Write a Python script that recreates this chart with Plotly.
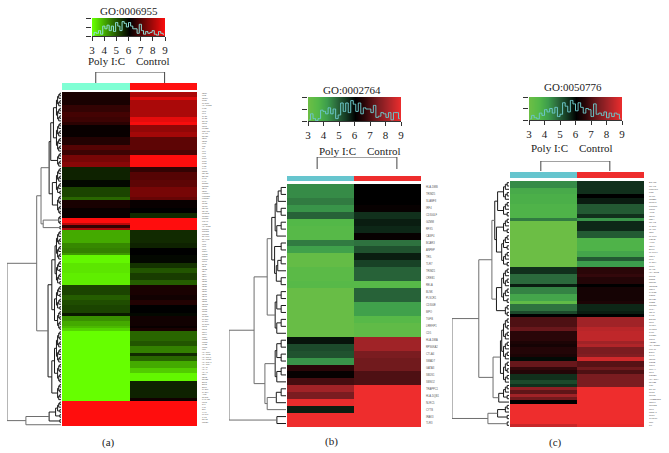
import math
import plotly.graph_objects as go

W, H = 669, 453
SERIF = "Liberation Serif"

# ---- data: runs of rows (row count, Poly I:C value, Control value)
BANDS_A = [(2,6.3,8.0),(1,6.3,8.6),(2,6.3,8.0),(3,6.6,8.0),(2,6.8,8.0),(2,6.7,8.7),(1,6.5,8.9),
 (3,6.1,7.7),(2,6.1,7.9),(3,6.4,7.1),(2,7.0,7.1),(2,6.7,6.9),(3,7.4,9.0),(2,7.6,9.0),
 (2,5.6,6.6),(3,5.6,7.0),(3,5.9,7.1),(4,5.2,7.4),(1,4.8,7.2),(3,6.3,6.1),(2,6.1,6.0),(2,6.1,5.5),
 (2,9.0,9.0),(1,8.2,9.0),(1,6.6,9.0),(1,8.0,9.0),
 (5,4.0,5.5),(2,4.4,5.6),(2,4.5,6.0),(1,4.2,6.0),(3,3.1,5.9),(2,3.3,5.4),(2,3.3,5.0),(3,3.2,5.3),(2,3.2,4.9),
 (4,5.2,6.3),(2,4.9,6.2),(2,5.1,6.4),(3,5.2,6.0),(1,5.7,5.9),(2,4.3,6.2),(2,4.0,6.2),(1,3.8,6.1),(1,3.5,6.3),
 (4,3.0,4.8),(2,3.0,5.0),(3,3.0,4.5),(1,3.0,5.5),(2,3.0,4.8),(3,3.0,4.0),(2,3.0,3.6),(3,3.0,3.1),
 (7,3.0,5.6),(1,3.0,6.2),(10,9.0,9.0)]
BANDS_B = [(1,4.4,6.0),(1,4.4,6.0),(1,4.6,6.0),(1,4.3,6.1),(1,4.9,5.5),(1,3.6,5.7),(1,3.5,5.6),(1,3.5,6.1),
 (1,4.6,4.7),(1,4.1,5.1),(1,3.2,5.7),(1,3.2,5.3),(1,3.4,4.9),(1,3.4,4.9),(1,3.5,3.5),(1,3.1,4.9),(1,3.1,4.9),
 (1,3.1,4.1),(1,3.1,4.1),(1,3.1,3.5),(1,3.1,3.3),(1,3.1,3.3),(1,5.8,8.0),(1,5.2,8.0),(1,5.1,7.5),(1,4.3,7.4),
 (1,6.6,7.4),(1,6.1,7.0),(1,6.9,7.0),(1,8.0,9.0),(1,7.5,9.0),(1,8.9,9.0),(1,5.7,9.0),(1,9.0,9.0),(1,9.0,9.0)]
BANDS_C = [(2,4.4,5.5),(2,3.9,5.5),(1,3.8,6.0),(2,3.8,5.7),(3,3.7,5.0),(1,3.7,5.5),(1,4.6,4.3),(3,3.0,5.6),(2,3.0,5.0),
 (4,3.0,3.7),(2,3.0,4.0),(1,3.0,5.0),(2,3.0,4.2),
 (2,5.5,6.6),(1,4.8,6.7),(2,4.8,6.5),(1,5.7,6.0),(2,4.5,6.3),(2,4.0,6.3),(1,3.3,6.4),(2,4.7,5.6),(1,5.2,5.7),(1,6.0,6.0),
 (3,7.0,8.0),(1,7.3,8.3),(3,6.6,8.4),(1,6.4,8.0),(1,6.3,8.2),(2,6.5,7.5),(1,6.4,7.6),(1,5.9,8.6),
 (2,7.3,7.1),(1,6.7,7.4),(1,6.5,7.0),(2,5.5,7.5),(1,5.2,7.5),(1,5.5,7.5),
 (1,7.8,9.0),(1,7.2,9.0),(1,8.0,9.0),(1,7.4,9.0),(1,6.0,9.0),(6,9.0,9.0),(1,8.5,8.9)]

GENES_A = """CD86 IL1B CD274 TLR2 CXCL10 HLA-DQB2 IFIT2 IRF1 MX1 OAS1 OAS2 STAT1 CCL5 CCL8 LILRB3 TNFAIP3 ICAM1 NFKB1
CD69 CD83 IL7R TNF IL6 IL10 IL15 IL18 TLR4 TLR7 TLR8 IFI35 IFI44 ISG15 RSAD2 DDX58 IFIH1 LY96 SOCS1 SOCS3 CD40 CD80
FCGR1A FCGR2B FCGR3A C1QA C1QB C1QC C3AR1 C5AR1 CLEC4E CLEC7A PTPRC ITGAM ITGB2 HLA-DOB TRIM21 TRIM22 TRIM25 SLAMF7 SLAMF8
IRF4 IRF5 IRF7 IRF8 GZMA GZMB GZMK GZMM PRF1 NKG7 CD2 CD3E CD4 CD8A CD14 CD19 CD22 CD27 CD28 CD36 CD37 CD38 CD48 CD52 CD53
CD163 CCR1 CCR2 CCR5 CCR7 CXCR3 CXCR4 CXCL9 CXCL11 CCL2 CCL3 CCL4 CCL7 IL2RA IL2RB IL2RG IL12B IL21R IL27 HLA-DMA HLA-DMB
HLA-DPA1 HLA-DPB1 HLA-DQA1 HLA-DRA HLA-E HLA-F HLA-G RELA RELB NFKB2 BCL2 BCL3 BCL6 CASP1 CASP4 AIM2 NLRP3 PYCARD LCP2 SYK
LYN BTK VAV1 MAPK1 JAK2 STAT3 PSMB9""".split()
GENES_B = """HLA-DMB TRIM25 SLAMF8 IRF4 CD300LF GZMM RFX5 CASP4 BCAR3 ANPEP TRIL TLR7 TRIM21 CREB1 RELA BLNK PLSCR1 CD300E MPO
TGFB LRRFIP1 CD5 HLA-DMA RPS6KA2 CTLA4 SMAD7 GATA3 SBDS1 SBNO2 TRAPPC1 HLA-DQB1 NLRC5 CYTB IRAK3 TLR3""".split()
GENES_C = """BCAR3 TRAF3 LRRFIP1 FOS CHUK CREB1 RUNX1 PTPN11 CCR7 ATF3 CD86 RELA TRAF2 CASP1 ICAM1 CD5 MAPK8 IKBKB AKT1 CD74 ELK1
MAPK14 CSF1 MX1 CASP4 TLR7 IRAK2 HLA-DMB RIPK2 NOD2 RNF31 CD300E CSK1 TYRO3 IL2RG NFKB1 GRB2 SOCS1 CIITA CD48 JAK3 BIRC3
IRF8 CXCL9 CXCR3 IFI16 IL18BP CCL5 ABCB9 HLA-DQB1 ITGAM BCL6 IFIH1 ISG15 GZMB CCL8 CTLA4 IRF1 PSMB8 HLA-DMA NFKB2 LCK STAT1
TLR2 TRIM5 APOBEC3G CD244 TRIM22 IRF7 MNDA1 TLR8 CXCL10 TNF IL6""".split()

HIST_A = [0.05,0.2,0.15,0.3,0.1,0.55,0.4,0.6,0.3,0.55,0.25,0.75,0.55,0.3,0.8,0.7,0.5,0.75,0.55,0.4,0.4,0.15,0.65,0.3,0.1,0.25,0.15,0.2,0.3,0.1,0.05,0.25,0.15,0.1]
HIST_B = [0.05,0.3,0.1,0.02,0.1,0.45,0.4,0.3,0.55,0.3,0.5,0.1,0.25,0.75,0.4,0.75,0.35,0.85,0.7,0.4,0.75,0.3,0.55,0.5,0.5,0.35,0.65,0.15,0.2,0.35,0.3,0.15,0.35,0.05,0.35,0.35,0.1]
HIST_C = [0.05,0.2,0.1,0.05,0.3,0.2,0.45,0.35,0.5,0.3,0.55,0.15,0.25,0.75,0.6,0.35,0.85,0.7,0.4,0.75,0.55,0.3,0.5,0.45,0.15,0.7,0.25,0.3,0.2,0.35,0.1,0.3,0.15,0.3,0.25,0.05]
KEY_TICKS = [3, 4, 5, 6, 7, 8, 9]

SCALE_A = [[0, "#66FF00"], [0.5, "#000000"], [1, "#FF0D0D"]]
SCALE_BC = [[0, "#6CBE45"], [0.1, "#53B848"], [0.2, "#3C9C4C"], [0.3, "#2B6A3C"], [0.4, "#143A22"], [0.5, "#000000"],
            [0.6, "#2A0608"], [0.75, "#7A1C20"], [0.85, "#A82428"], [1, "#EE2D2D"]]

# cluster trees: (merge height, upper child, lower child); an integer child is a run of leaves
TREE_A = (1.0,
  (0.45,
    (0.37,
      (0.22, (0.19, (0.14, 12, 12), 6), (0.16, 11, 8)),
      (0.33, 4, 2)),
    (0.24,
      (0.17, (0.11, 12, 10), (0.12, 10, 8)),
      (0.17, (0.12, 13, 8), 7))),
  (0.65, (0.22, (0.1, 5, 2), 2), 1))
TREE_B = (1.0,
  (0.56,
    (0.33,
      (0.25, (0.19, 5, 3), (0.2, 2, 5)),
      (0.19, 4, 3)),
    (0.37, (0.19, 4, 3), (0.33, 3, 1))),
  (0.16, 1, 1))
TREE_C = (1.0,
  (0.53,
    (0.3,
      (0.25, (0.2, 6, 5), (0.22, 5, 10)),
      (0.22, 11, 4)),
    (0.28, (0.15, 13, 7), (0.18, 5, 1))),
  (0.37, (0.2, 3, 2), 2))

def expand(bands):
    poly, ctrl = [], []
    for n, p, c in bands:
        poly += [p] * n
        ctrl += [c] * n
    return poly, ctrl

def tree_segments(tree, step):
    segs = []
    cursor = [0]
    def fine(n, parent):
        if n == 1:
            r = cursor[0]
            cursor[0] += 1
            return r, 0.0
        h = min(parent * 0.85, step * math.ceil(math.log2(n)))
        return join(h, n // 2 + n % 2, n // 2)
    def walk(node, parent):
        if isinstance(node, int):
            return fine(node, parent)
        return join(node[0], node[1], node[2])
    def join(h, a, b):
        ya, ha = walk(a, h)
        yb, hb = walk(b, h)
        segs.append((h, [ha, h, h, hb], [ya, ya, yb, yb]))
        return (ya + yb) / 2, h
    walk(tree, 1.0)
    return segs

PANELS = [
 dict(bands=BANDS_A, genes=GENES_A, tree=TREE_A, step=0.021, title="GO:0006955", tag="(a)", hist=HIST_A,
      heat=(62,197,92,426), side=(83,90), bracket=(0.0,1.02,72,83), dend=(7,61),
      key=(92,165,18,36), title_xy=(129,11), poly_xy=(106,61), ctrl_xy=(153,61), tag_xy=(109,442),
      scale=SCALE_A, side_cols=["#7FFFD4","#FF1010"], line="#8FE0D8", lab=1.9),
 dict(bands=BANDS_B, genes=GENES_B, tree=TREE_B, step=0.085, title="GO:0002764", tag="(b)", hist=HIST_B,
      heat=(287,421,184,427), side=(176,181), bracket=(-0.05,1.14,157,169), dend=(229,286),
      key=(308,401,97,121), title_xy=(352,90), poly_xy=(337,151), ctrl_xy=(384,151), tag_xy=(331,441),
      scale=SCALE_BC, side_cols=["#66C5CE","#EE2D2D"], line="#6CC5C8", lab=2.6),
 dict(bands=BANDS_C, genes=GENES_C, tree=TREE_C, step=0.032, title="GO:0050776", tag="(c)", hist=HIST_C,
      heat=(510,644,181,427), side=(172,178), bracket=(-0.04,0.99,161,171), dend=(452,509),
      key=(529,622,97,120), title_xy=(573,87), poly_xy=(549,148), ctrl_xy=(596,148), tag_xy=(555,442),
      scale=SCALE_BC, side_cols=["#66C5CE","#EE2D2D"], line="#6CC5C8", lab=2.2),
]

fig = go.Figure()
layout = {}
notes = []
ax = [0]

def new_axes(x0, x1, y0, y1, xopts, yopts):
    ax[0] += 1
    s = "" if ax[0] == 1 else str(ax[0])
    base = dict(showgrid=False, zeroline=False, showline=False, ticks="", showticklabels=False, automargin=False)
    layout["xaxis" + s] = {**base, "domain": [x0 / W, x1 / W], "anchor": "y" + s, **xopts}
    layout["yaxis" + s] = {**base, "domain": [1 - y1 / H, 1 - y0 / H], "anchor": "x" + s, **yopts}
    return "x" + s, "y" + s

for P in PANELS:
    poly, ctrl = expand(P["bands"])
    n = len(poly)
    cs = P["scale"]
    genes = P["genes"][:n]
    hx0, hx1, hy0, hy1 = P["heat"]

    # main heat map with row labels
    xa, ya = new_axes(hx0, hx1, hy0, hy1,
        dict(range=[-0.5, 1.5]),
        dict(range=[n - 0.5, -0.5], side="right", showticklabels=True, tickmode="array",
             tickvals=list(range(len(genes))), ticktext=genes, ticklabelstandoff=4,
             tickfont=dict(family="Liberation Sans", size=P["lab"], color="#555555")))
    fig.add_trace(go.Heatmap(x=[0, 1], y=list(range(n)),
        z=[[p, c] for p, c in zip(poly, ctrl)], zmin=3, zmax=9, colorscale=cs, showscale=False,
        xaxis=xa, yaxis=ya))

    # row dendrogram
    dx0, dx1 = P["dend"]
    xa, ya = new_axes(dx0, dx1, hy0, hy1, dict(range=[1.0, 0.0]), dict(range=[n - 0.5, -0.5]))
    for low, col in ((True, "#1A1A1A"), (False, "#6E6E6E")):
        xs, ys = [], []
        for h, sx, sy in tree_segments(P["tree"], P["step"]):
            if (h < 0.27) == low:
                xs += sx + [None]
                ys += sy + [None]
        fig.add_trace(go.Scatter(x=xs, y=ys, mode="lines", line=dict(color=col, width=1),
            hoverinfo="skip", xaxis=xa, yaxis=ya, cliponaxis=False))

    # sample colour bar and column bracket
    sy0, sy1 = P["side"]
    bx0, bx1, by0, by1 = P["bracket"]
    ph = sy1 - sy0
    xa, ya = new_axes(hx0, hx1, by0, sy1,
        dict(range=[-0.5, 1.5]),
        dict(range=[-0.5, (sy1 - by0) / ph - 0.5]))
    fig.add_trace(go.Heatmap(x=[0, 1], y=[0], z=[[0, 1]], zmin=0, zmax=1, showscale=False,
        colorscale=[[0, P["side_cols"][0]], [1, P["side_cols"][1]]], xaxis=xa, yaxis=ya))
    low = (sy1 - by1) / ph - 0.5
    top = (sy1 - by0) / ph - 0.5
    fig.add_trace(go.Scatter(x=[bx0, bx0, bx1, bx1], y=[low, top, top, low], mode="lines",
        line=dict(color="#444444", width=1), hoverinfo="skip", xaxis=xa, yaxis=ya, cliponaxis=False))

    # colour key with histogram
    kx0, kx1, ky0, ky1 = P["key"]
    xa, ya = new_axes(kx0, kx1, ky0, ky1,
        dict(range=[3, 9], tickmode="array", tickvals=KEY_TICKS, ticks="outside", ticklen=4, tickwidth=1,
             tickcolor="#333333", showticklabels=True, showline=True, linecolor="#333333",
             tickfont=dict(family=SERIF, size=11, color="#222222")),
        dict(range=[0, 1], tickmode="array", tickvals=[0, 0.5, 1], ticks="outside", ticklen=5, tickcolor="#333333"))
    fig.add_trace(go.Heatmap(x=KEY_TICKS, y=[0, 1], z=[KEY_TICKS, KEY_TICKS], zmin=3, zmax=9, colorscale=cs,
        showscale=False, zsmooth="best", xaxis=xa, yaxis=ya))
    m = len(P["hist"])
    fig.add_trace(go.Scatter(x=[3 + 6 * (i + 0.5) / m for i in range(m)], y=P["hist"], mode="lines",
        line=dict(color=P["line"], width=1, shape="hvh"), hoverinfo="skip", xaxis=xa, yaxis=ya))

    for key, txt in (("title_xy", P["title"]), ("poly_xy", "Poly I:C"), ("ctrl_xy", "Control"), ("tag_xy", P["tag"])):
        x, y = P[key]
        notes.append(dict(text=txt, x=x / W, y=1 - y / H, xref="paper", yref="paper", showarrow=False,
            xanchor="center", yanchor="middle", borderpad=0,
            font=dict(family=SERIF, size=11, color="#222222")))

fig.update_layout(width=W, height=H, margin=dict(l=0, r=0, t=0, b=0), paper_bgcolor="white",
    plot_bgcolor="white", showlegend=False, annotations=notes, **layout)
fig.write_html("out.html", config=dict(displayModeBar=False),
               post_script="document.body.style.margin='0';")
